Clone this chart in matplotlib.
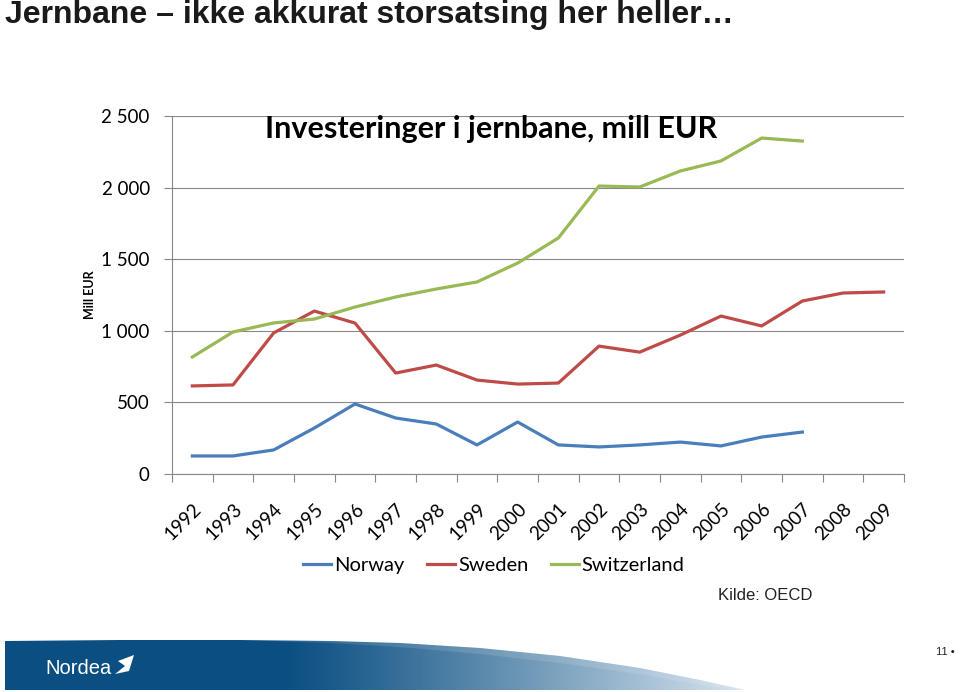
import numpy as np
import matplotlib
matplotlib.use("Agg")
import matplotlib.pyplot as plt
from matplotlib.patches import Polygon
from matplotlib.lines import Line2D

years = [str(y) for y in range(1992, 2010)]
norway = [126, 126, 168, 321, 489, 391, 349, 203, 363, 203, 189, 203, 223, 196, 258, 293, np.nan, np.nan]
sweden = [615, 622, 985, 1138, 1054, 705, 761, 656, 628, 635, 893, 851, 970, 1103, 1034, 1208, 1264, 1271]
switzerland = [817, 992, 1055, 1082, 1166, 1236, 1292, 1341, 1473, 1648, 2011, 2004, 2116, 2186, 2346, 2325, np.nan, np.nan]
series_names = ["Norway", "Sweden", "Switzerland"]
colors = ["#4a7ebb", "#be4b48", "#98b954"]
yticks = [0, 500, 1000, 1500, 2000, 2500]
ytick_labels = ["0", "500", "1 000", "1 500", "2 000", "2 500"]

W, H = 960, 692
fig = plt.figure(figsize=(W / 100, H / 100), dpi=100)

# background / decoration axes in pixel coords
bg = fig.add_axes([0, 0, 1, 1], zorder=0)
bg.set_xlim(0, W)
bg.set_ylim(H, 0)
bg.axis("off")

# footer banner with gradient
top_x = [5, 120, 240, 330, 400, 480, 560, 640, 700, 745]
top_y = [641, 640, 640, 641, 643, 648, 656, 668, 680, 690]
verts = list(zip(top_x, top_y)) + [(5, 690)]
poly = Polygon(verts, closed=True, facecolor="none", edgecolor="none")
bg.add_patch(poly)
xs = np.linspace(0, 1, 400)
c_dark = np.array([11, 79, 130]) / 255
c_light = np.array([215, 228, 238]) / 255
t = np.clip((xs - 0.38) / 0.62, 0, 1) ** 1.1
grad = c_dark[None, :] * (1 - t[:, None]) + c_light[None, :] * t[:, None]
img = np.tile(grad[None, :, :], (10, 1, 1))
im = bg.imshow(img, extent=[5, 745, 690, 638], aspect="auto", zorder=1)
im.set_clip_path(poly)
# subtle lighter top band
band_top = list(zip(top_x[2:], top_y[2:]))
band_bot = [(240, 640), (330, 643), (400, 647), (480, 654), (560, 663), (640, 674), (700, 685), (745, 690)]
band = Polygon(band_top + band_bot[::-1], closed=True, facecolor="white", alpha=0.12,
               edgecolor="none", zorder=2)
bg.add_patch(band)
bg.text(45, 668, "Nordea", color="white", fontsize=14.5, family="Liberation Sans",
        va="center", ha="left", zorder=3)
sail = Polygon([(118, 661), (134, 655), (129, 671), (115, 674), (125, 666)], closed=True,
               facecolor="white", edgecolor="none", zorder=3)
bg.add_patch(sail)
bg.text(955, 652, "11 \u2022", fontsize=8, family="Liberation Sans", ha="right",
        va="center", color="#222222")

# slide title
fig.text(5 / W, 1 - 15 / H, "Jernbane \u2013 ikke akkurat storsatsing her heller\u2026",
         fontsize=23, fontweight="bold", family="Liberation Sans", color="#1a1a1a",
         ha="left", va="center")

# main chart
left, right, top, bottom = 172, 904, 116, 474
ax = fig.add_axes([left / W, 1 - bottom / H, (right - left) / W, (bottom - top) / H], zorder=2)
ax.patch.set_alpha(0)
x = np.arange(len(years))
for vals, name, c in zip([norway, sweden, switzerland], series_names, colors):
    ax.plot(x, vals, color=c, lw=2.3, label=name, solid_joinstyle="round", zorder=3)

ax.set_xlim(-0.5, len(years) - 0.5)
ax.set_ylim(0, 2500)
ax.set_yticks(yticks)
ax.set_yticklabels(ytick_labels, family="Lato", fontsize=13.5)
ax.grid(axis="y", color="#888888", lw=0.8)
ax.set_axisbelow(True)
ax.set_xticks(x)
ax.set_xticklabels(years, rotation=45, ha="right", va="top", rotation_mode="anchor",
                   family="Lato", fontsize=13.5)
ax.tick_params(axis="x", which="major", length=0, pad=19)
ax.set_xticks(np.arange(-0.5, len(years)), minor=True)
ax.tick_params(axis="x", which="minor", length=6, color="#888888", width=0.8)
ax.tick_params(axis="y", length=6, color="#888888", width=0.8, pad=10)
for s in ["top", "right"]:
    ax.spines[s].set_visible(False)
for s in ["left", "bottom"]:
    ax.spines[s].set_color("#888888")
    ax.spines[s].set_linewidth(0.8)

fig.text(491 / W, 1 - 129 / H, "Investeringer i jernbane, mill EUR",
         family="Lato", fontweight="bold", fontsize=22, ha="center", va="center", zorder=5)

fig.text(90 / W, 1 - 295 / H, "Mill EUR", rotation=90, family="Lato", fontweight="bold",
         fontsize=9, ha="center", va="center")

handles = [Line2D([0], [0], color=c, lw=2.3) for c in colors]
fig.legend(handles, series_names, loc="center", bbox_to_anchor=(494 / W, 1 - 565 / H),
           ncol=3, frameon=False, prop={"family": "Lato", "size": 14.5},
           handlelength=1.4, handletextpad=0.15, columnspacing=1.1)

fig.text(765 / W, 1 - 595 / H, "Kilde: OECD", family="Liberation Sans", fontsize=12,
         ha="center", va="center", color="#222222")

fig.savefig("out.png", dpi=100)
